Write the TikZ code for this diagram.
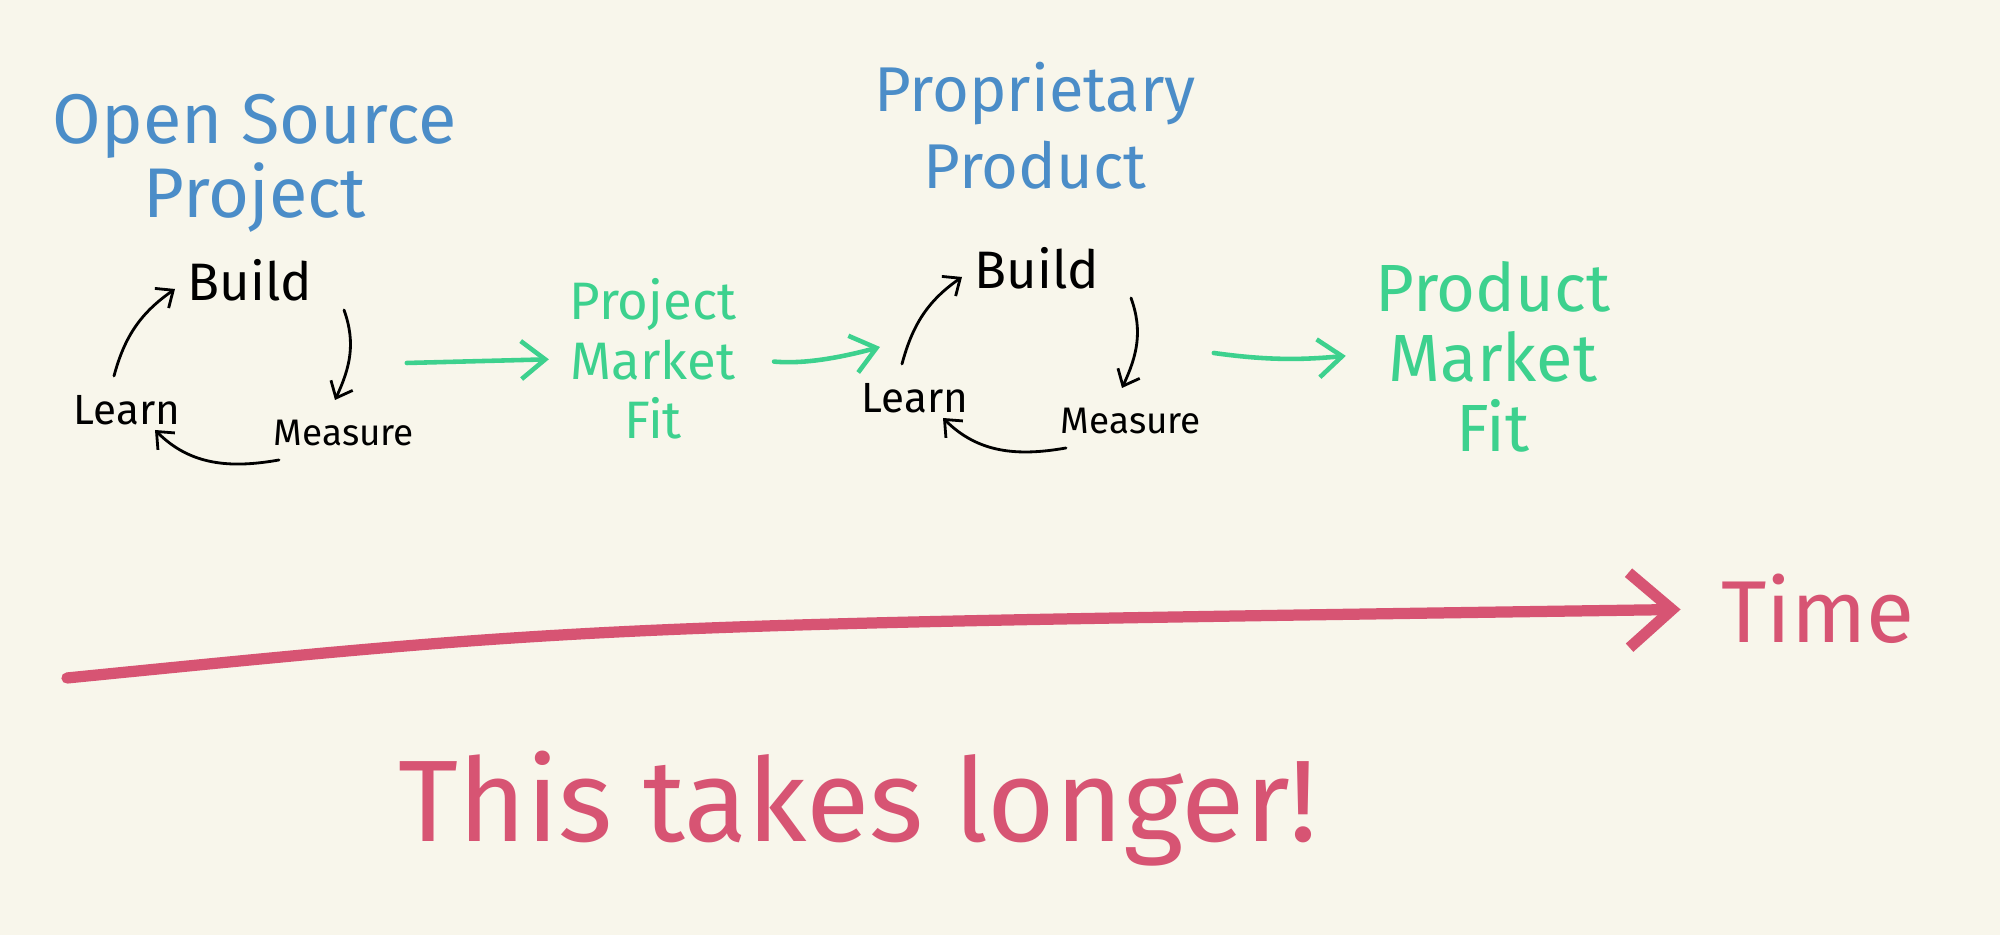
\documentclass[tikz,border=0pt]{standalone}
\usepackage{fontspec}
\setmainfont{Fira Sans}
\usepackage{tikz}
\usetikzlibrary{arrows.meta,calc,positioning}
\usepackage{xcolor}
\definecolor{paper}{HTML}{F8F6EB}
\definecolor{titleblue}{HTML}{4B8DC8}
\definecolor{fitgreen}{HTML}{3DD18E}
\definecolor{timepink}{HTML}{D75473}

\tikzset{
  title/.style={text=titleblue, align=center, inner sep=2pt},
  stage/.style={text=black, inner sep=2pt},
  fitlabel/.style={text=fitgreen, align=center, inner sep=2pt},
  cyc/.style={draw=black, line width=0.8pt, line cap=round, -{Straight Barb[length=1.4mm,width=2.4mm]}},
  flow/.style={draw=fitgreen, line width=1.3pt, line cap=round, -{Straight Barb[length=2.4mm,width=3.8mm]}},
  timeline/.style={draw=timepink, line width=3.2pt, line cap=round, -{Straight Barb[length=4.3mm,width=7.5mm]}}
}

\begin{document}
\begin{tikzpicture}[x=0.1mm, y=0.1mm]
            % paper
            \fill[paper] (0,0) rectangle (2000,935);
            \useasboundingbox (0,0) rectangle (2000,935);
            % titles
            \node[title, font=\fontsize{20}{21}\selectfont] (ostitle) at (255,772) {Open Source\\Project};
            \node[title, font=\fontsize{18}{22}\selectfont] (pptitle) at (1035,809) {Proprietary\\Product};
            % build-measure-learn loops
            \node[stage, font=\fontsize{15}{18}\selectfont] (build1) at (250,655) {Build};
            \node[stage, font=\fontsize{12}{14}\selectfont] (learn1) at (127,525) {Learn};
            \node[stage, font=\fontsize{10.5}{12}\selectfont] (measure1) at (344,502) {Measure};
            \node[stage, font=\fontsize{15}{18}\selectfont] (build2) at (1037,667) {Build};
            \node[stage, font=\fontsize{12}{14}\selectfont] (learn2) at (915,537) {Learn};
            \node[stage, font=\fontsize{10.5}{12}\selectfont] (measure2) at (1131,514) {Measure};
            \foreach \i in {1,2} {
                \draw[cyc] ($(learn\i)+(-13,34)$) to[out=75, in=215] ($(build\i)+(-75,-9)$);
                \draw[cyc] ($(build\i)+(94,-30)$) to[out=-70, in=65] ($(measure\i)+(-9,33)$);
                \draw[cyc] ($(measure\i)+(-65,-27)$) to[out=190, in=-45] ($(learn\i)+(28,-20)$);
            }
            % market fit
            \node[fitlabel, font=\fontsize{15}{17}\selectfont] (pmf1) at (653,576) {Project\\Market\\Fit};
            \node[fitlabel, font=\fontsize{19}{20}\selectfont] (pmf2) at (1493,578) {Product\\Market\\Fit};
            \draw[flow, shorten >=1.3mm] ($(measure1.east |- pmf1.west)+(-15,-4)$) -- (pmf1.west);
            \draw[flow, shorten <=3mm] (pmf1.east) to[out=-5, in=195] ($(learn2)+(-35,51)$);
            \draw[flow, shorten >=2.2mm] ($(measure2.east |- pmf2.west)+(5,4)$) to[out=-8, in=185] ($(pmf2.west)+(0,3)$);
            % time
            \node[text=timepink, inner sep=2pt, font=\fontsize{25}{28}\selectfont] (timelabel) at (1818,326) {Time};
            \coordinate (tstart) at (67,257);
            \draw[timeline, shorten >=3.3mm] (tstart) .. controls (600,310) .. (timelabel.west);
            \node[text=timepink, anchor=base, inner sep=2pt, font=\fontsize{33}{36}\selectfont] (note) at (858,93) {This takes longer!};
\end{tikzpicture}
\end{document}
